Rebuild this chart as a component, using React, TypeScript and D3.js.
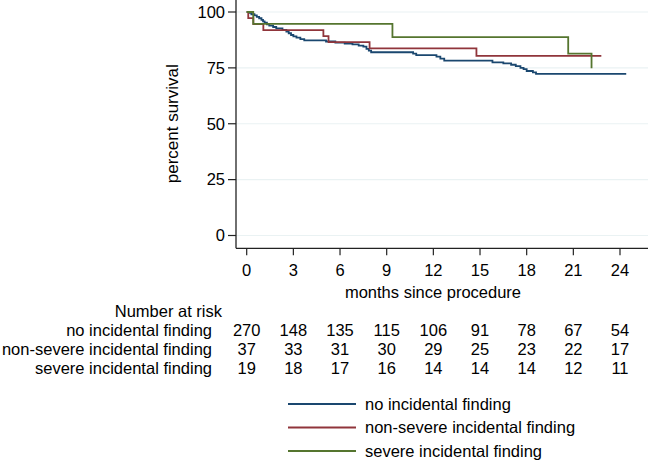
import React from "react";
import * as d3 from "d3";

const W = 650;
const H = 463;

const xTicks = [0, 3, 6, 9, 12, 15, 18, 21, 24];
const yTicks = [0, 25, 50, 75, 100];

const seriesNames = [
  "no incidental finding",
  "non-severe incidental finding",
  "severe incidental finding",
];
const seriesColors = ["#1a476f", "#90353b", "#55752f"];

// [months, percent survival]
const noFinding: [number, number][] = [
  [0, 100], [0.15, 99.6], [0.3, 99.0], [0.5, 98.5], [0.65, 97.8], [0.8, 97.2],
  [0.95, 96.5], [1.05, 95.8], [1.15, 95.2], [1.3, 94.5], [1.45, 93.9], [1.7, 93.3],
  [1.9, 92.7], [2.3, 92.0], [2.55, 91.2], [2.7, 90.5], [2.85, 89.7], [3.0, 89.1],
  [3.2, 88.5], [3.45, 87.9], [3.7, 87.3], [5.1, 86.8], [5.7, 86.3], [6.3, 85.9],
  [6.8, 85.5], [7.2, 85.0], [7.5, 84.5], [7.7, 83.5], [7.85, 82.7], [8.0, 82.0],
  [10.7, 81.4], [10.9, 80.7], [12.2, 80.0], [12.45, 79.1], [12.7, 78.2], [15.8, 77.5],
  [16.5, 77.0], [17.0, 76.4], [17.3, 75.8], [17.6, 75.0], [17.8, 74.4], [18.0, 73.6],
  [18.4, 73.0], [18.6, 72.3], [24.4, 72.3],
];
const nonSevere: [number, number][] = [
  [0, 100], [0.1, 97.3], [0.43, 94.6], [1.07, 91.9], [4.93, 89.2], [5.26, 86.5],
  [7.9, 83.7], [14.77, 80.4], [22.8, 80.4],
];
const severe: [number, number][] = [
  [0, 100], [0.42, 94.7], [9.37, 88.8], [20.67, 81.4], [22.17, 74.8],
];
const allSeries = [noFinding, nonSevere, severe];

const atRiskNo = [270, 148, 135, 115, 106, 91, 78, 67, 54];
const atRiskNonSevere = [37, 33, 31, 30, 29, 25, 23, 22, 17];
const atRiskSevere = [19, 18, 17, 16, 14, 14, 14, 12, 11];
const atRisk = [atRiskNo, atRiskNonSevere, atRiskSevere];

export default function App() {
  const x = d3.scaleLinear().domain([0, 24]).range([246.7, 620]);
  const y = d3.scaleLinear().domain([0, 100]).range([235.5, 12]);
  const axisX = 236;
  const axisY = 248.3;
  const font = "'Liberation Sans', Arial, sans-serif";
  const fs = 16.5;
  const line = d3
    .line<[number, number]>()
    .x((d) => x(d[0]))
    .y((d) => y(d[1]))
    .curve(d3.curveStepAfter);

  const riskRowsY = [330, 349, 368];
  const legendY = [404, 427.5, 451];

  return (
    <svg
      width={W}
      height={H}
      style={{ position: "absolute", left: 0, top: 0, background: "#fff" }}
      fontFamily={font}
    >
      <rect x={0} y={0} width={W} height={H} fill="#fff" />
      {/* gridlines */}
      {yTicks.map((t) => (
        <line key={"g" + t} x1={axisX} x2={648} y1={y(t)} y2={y(t)} stroke="#eaf2f3" strokeWidth={1.2} />
      ))}
      {/* curves */}
      {allSeries.map((s, i) => (
        <path key={"s" + i} d={line(s) || ""} fill="none" stroke={seriesColors[i]} strokeWidth={1.8} />
      ))}
      {/* y axis */}
      <line x1={axisX} x2={axisX} y1={0} y2={axisY} stroke="#222" strokeWidth={1.3} />
      {yTicks.map((t) => (
        <g key={"y" + t}>
          <line x1={axisX - 8} x2={axisX} y1={y(t)} y2={y(t)} stroke="#222" strokeWidth={1.2} />
          <text x={axisX - 11} y={y(t)} dy="0.35em" textAnchor="end" fontSize={fs} fill="#000">
            {t}
          </text>
        </g>
      ))}
      <text
        transform={`translate(${172},${y(50)}) rotate(-90)`}
        textAnchor="middle"
        dy="0.35em"
        fontSize={17}
        fill="#000"
      >
        percent survival
      </text>
      {/* x axis */}
      <line x1={axisX} x2={648} y1={axisY} y2={axisY} stroke="#222" strokeWidth={1.3} />
      {xTicks.map((t) => (
        <g key={"x" + t}>
          <line x1={x(t)} x2={x(t)} y1={axisY} y2={axisY + 7} stroke="#222" strokeWidth={1.2} />
          <text x={x(t)} y={270} dy="0.35em" textAnchor="middle" fontSize={fs} fill="#000">
            {t}
          </text>
        </g>
      ))}
      <text x={433} y={292} dy="0.35em" textAnchor="middle" fontSize={fs} fill="#000">
        months since procedure
      </text>
      {/* number at risk */}
      <text x={222} y={311} dy="0.35em" textAnchor="end" fontSize={fs} fill="#000">
        Number at risk
      </text>
      {atRisk.map((row, i) => (
        <g key={"r" + i}>
          <text x={212} y={riskRowsY[i]} dy="0.35em" textAnchor="end" fontSize={fs} fill="#000">
            {seriesNames[i]}
          </text>
          {row.map((v, j) => (
            <text key={j} x={x(xTicks[j])} y={riskRowsY[i]} dy="0.35em" textAnchor="middle" fontSize={fs} fill="#000">
              {v}
            </text>
          ))}
        </g>
      ))}
      {/* legend */}
      {seriesNames.map((n, i) => (
        <g key={"l" + i}>
          <line x1={288} x2={356} y1={legendY[i]} y2={legendY[i]} stroke={seriesColors[i]} strokeWidth={1.8} />
          <text x={365} y={legendY[i]} dy="0.35em" fontSize={fs} fill="#000">
            {n}
          </text>
        </g>
      ))}
    </svg>
  );
}
